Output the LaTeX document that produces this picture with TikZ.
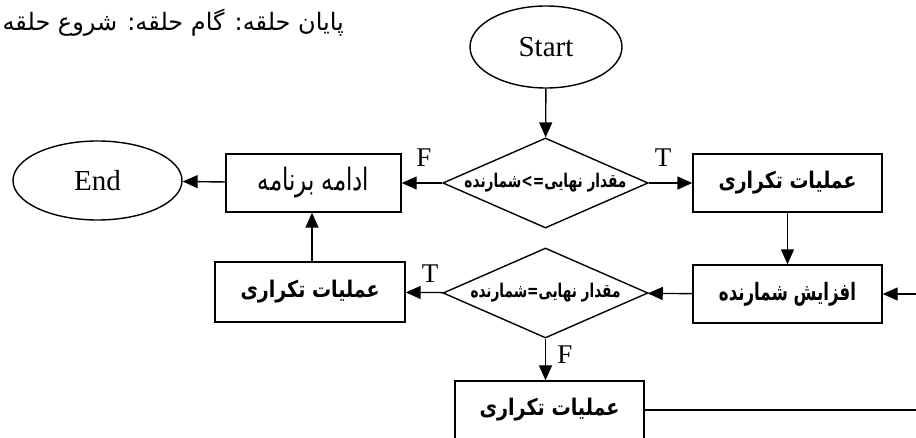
\documentclass[tikz,border=0pt]{standalone}
\usepackage{fontspec}
\usepackage{graphicx}
\setmainfont{Liberation Serif}
\newfontfamily\fa[Script=Arabic]{DejaVu Sans}
\TeXXeTstate=1
\usetikzlibrary{shapes.geometric,arrows.meta}

% Persian label fitted to a given width and total height
\newcommand\faw[3]{\resizebox*{#1}{#2}{\fa\beginR #3\endR}}
\newcommand\fabw[3]{\resizebox*{#1}{#2}{\fa\bfseries\beginR #3\endR}}

\begin{document}
\begin{tikzpicture}[x=1pt,y=-1pt,
  line/.style={line width=1.4pt},
  flow/.style={line, -{Triangle[length=15pt,width=13pt]}},
  stepbox/.style={draw, line, rectangle, inner sep=0pt, minimum height=58pt},
  term/.style={draw, line, ellipse, inner sep=0pt, font=\fontsize{29}{32}\selectfont},
  test/.style={draw, line, diamond, inner sep=0pt, aspect=2.28,
               minimum width=205pt, minimum height=90pt},
  tag/.style={font=\fontsize{27}{30}\selectfont, inner sep=0pt}]
  \clip (0,0) rectangle (916,438);

  % header line
  \node[anchor=east, inner sep=0pt] (hdr) at (344,23)
    {\fontsize{24}{28}\selectfont\fa\beginR پایان حلقه:  گام حلقه: شروع حلقه\endR};

  % terminals
  \node[term, minimum width=152pt, minimum height=82pt] (start) at (546,47) {Start};
  \node[term, minimum width=169pt, minimum height=79pt] (end) at (97.5,180.5) {End};

  % decisions
  \node[test] (d1) at (545.5,183) {\fabw{162pt}{19pt}{مقدار نهایی=>شمارنده}};
  \node[test] (d2) at (545.5,293) {\fabw{150pt}{19pt}{مقدار نهایی=شمارنده}};

  % process boxes
  \node[stepbox, minimum width=189pt] (work1) at (787.5,183) {\fabw{138pt}{23pt}{عملیات تکراری}};
  \node[stepbox, minimum width=189pt] (inc) at (787.5,294) {\fabw{137pt}{24pt}{افزایش شمارنده}};
  \node[stepbox, minimum width=175pt] (cont) at (313.5,183) {\faw{111pt}{31pt}{ادامه برنامه}};
  \node[stepbox, minimum width=190pt, minimum height=60pt] (work2) at (310,292) {\fabw{139pt}{23pt}{عملیات تکراری}};
  \node[stepbox, minimum width=189pt] (work3) at (549.5,410) {\fabw{140pt}{23pt}{عملیات تکراری}};

  % loose ends at the right border
  \coordinate (inIn) at (916,294);
  \coordinate (outW3) at (916,410);

  % connectors
  \draw[flow] (start) -- (d1);
  \draw[flow] (d1) -- (work1);
  \draw[flow] (d1) -- (cont);
  \draw[flow] (cont) -- (end);
  \draw[flow] (work1) -- (inc);
  \draw[flow] (inIn) -- (inc);
  \draw[flow] (inc) -- (d2);
  \draw[flow] (d2) -- (work2);
  \draw[flow] (work2.north -| 312,0) -- (cont.south -| 312,0);
  \draw[flow] (d2) -- (d2.south |- work3.north);
  \draw[line] (work3) -- (outW3);

  % branch labels
  \node[tag] (t1) at (663,158) {T};
  \node[tag] (f1) at (424,158) {F};
  \node[tag] (t2) at (430,274) {T};
  \node[tag] (f2) at (565,355) {F};
\end{tikzpicture}
\end{document}
